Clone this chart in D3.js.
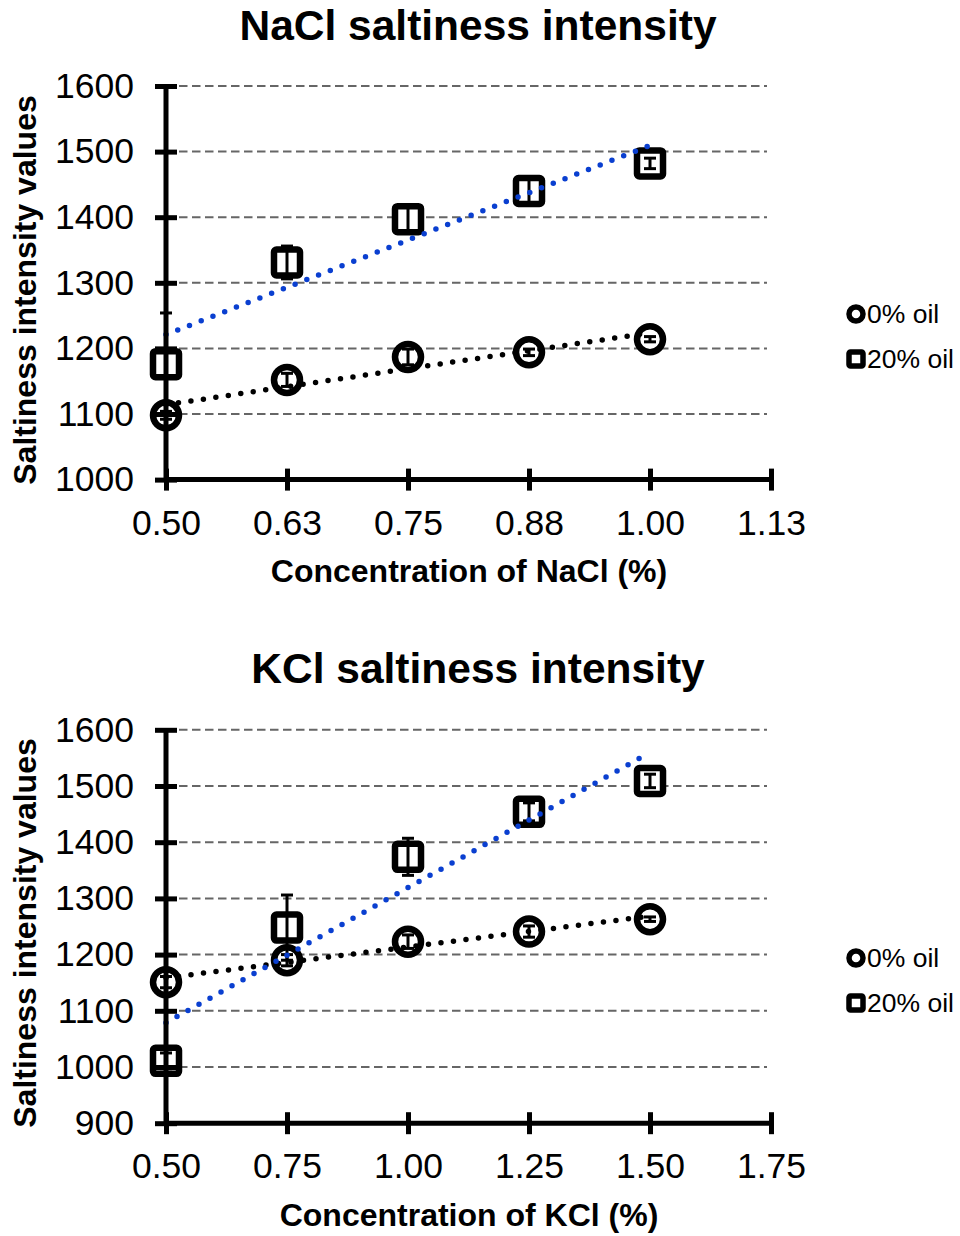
<!DOCTYPE html>
<html><head><meta charset="utf-8">
<script src="https://cdn.jsdelivr.net/npm/d3@7"></script>
<style>body{margin:0;background:#fff}svg{display:block}</style>
</head><body>
<svg id="c" width="960" height="1236"></svg>
<script>
// ---------- data ----------
const seriesNames = ["0% oil", "20% oil"];

const naclConc = [0.5, 0.625, 0.75, 0.875, 1.0];
const naclOil0 = [1098, 1152, 1187, 1194, 1214];
const naclOil0Err = [6, 10, 12, 5, 4];
const naclOil20 = [1176, 1331, 1397, 1440, 1482];
const naclOil20Err = [78, 25, 20, 20, 8];
const naclXTicks = [0.5, 0.625, 0.75, 0.875, 1.0, 1.125];
const naclYTicks = [1000, 1100, 1200, 1300, 1400, 1500, 1600];

const kclConc = [0.5, 0.75, 1.0, 1.25, 1.5];
const kclOil0 = [1151, 1190, 1223, 1241, 1263];
const kclOil0Err = [10, 10, 12, 10, 4];
const kclOil20 = [1011, 1248, 1374, 1454, 1509];
const kclOil20Err = [14, 58, 33, 16, 12];
const kclXTicks = [0.5, 0.75, 1.0, 1.25, 1.5, 1.75];
const kclYTicks = [900, 1000, 1100, 1200, 1300, 1400, 1500, 1600];

// ---------- drawing ----------
const svg = d3.select("#c");
const FONT = "'Liberation Sans', Arial, sans-serif";
const BLUE = "#0a3fd0";

function linFit(xs, ys) {
  const n = xs.length, mx = d3.mean(xs), my = d3.mean(ys);
  let sxy = 0, sxx = 0;
  for (let i = 0; i < n; i++) { sxy += (xs[i]-mx)*(ys[i]-my); sxx += (xs[i]-mx)**2; }
  const b = sxy / sxx, a = my - b*mx;
  return x => a + b*x;
}

function drawChart(cfg) {
  const g = svg.append("g");
  const x = d3.scaleLinear().domain([cfg.xTicks[0], cfg.xTicks[cfg.xTicks.length-1]]).range([166, 771]);
  const y = d3.scaleLinear().domain([cfg.yTicks[0], cfg.yTicks[cfg.yTicks.length-1]]).range(cfg.yRange);

  // title
  g.append("text").attr("x", 478).attr("y", cfg.titleY).attr("dy", "0.35em")
    .attr("text-anchor", "middle").attr("font-family", FONT).attr("font-weight", "bold")
    .attr("font-size", 42.5).text(cfg.title);

  // gridlines
  g.append("g").selectAll("line").data(cfg.yTicks.slice(1)).join("line")
    .attr("x1", 166).attr("x2", 767).attr("y1", d => y(d)).attr("y2", d => y(d))
    .attr("stroke", "#666").attr("stroke-width", 2).attr("stroke-dasharray", "8.5,4.5");

  // markers
  const s0 = cfg.conc.map((c, i) => ({c, v: cfg.oil0[i], e: cfg.oil0Err[i]}));
  const s1 = cfg.conc.map((c, i) => ({c, v: cfg.oil20[i], e: cfg.oil20Err[i]}));

  g.append("g").selectAll("circle").data(s0).join("circle")
    .attr("cx", d => x(d.c)).attr("cy", d => y(d.v)).attr("r", 13)
    .attr("fill", "#fff").attr("stroke", "#000").attr("stroke-width", 6.5);
  g.append("g").selectAll("rect").data(s1).join("rect")
    .attr("x", d => x(d.c) - 13).attr("y", d => y(d.v) - 13).attr("width", 26).attr("height", 26)
    .attr("rx", 2.5).attr("fill", "#fff").attr("stroke", "#000").attr("stroke-width", 6.5)
    .attr("stroke-linejoin", "round");

  // error bars
  [s0, s1].forEach(s => {
    const eg = g.append("g").attr("stroke", "#000").attr("stroke-width", 3);
    eg.selectAll(".v").data(s).join("line").attr("class", "v")
      .attr("x1", d => x(d.c)).attr("x2", d => x(d.c))
      .attr("y1", d => y(d.v - d.e)).attr("y2", d => y(d.v + d.e));
    eg.selectAll(".t").data(s).join("line").attr("class", "t")
      .attr("x1", d => x(d.c) - 6).attr("x2", d => x(d.c) + 6)
      .attr("y1", d => y(d.v + d.e)).attr("y2", d => y(d.v + d.e));
    eg.selectAll(".b").data(s).join("line").attr("class", "b")
      .attr("x1", d => x(d.c) - 6).attr("x2", d => x(d.c) + 6)
      .attr("y1", d => y(d.v - d.e)).attr("y2", d => y(d.v - d.e));
  });

  // trendlines
  const x0 = d3.min(cfg.conc), x1 = d3.max(cfg.conc);
  [[cfg.oil0, "#000"], [cfg.oil20, BLUE]].forEach(([vals, col]) => {
    const f = linFit(cfg.conc, vals);
    g.append("line").attr("x1", x(x0)).attr("y1", y(f(x0))).attr("x2", x(x1)).attr("y2", y(f(x1)))
      .attr("stroke", col).attr("stroke-width", 5.5).attr("stroke-linecap", "round")
      .attr("stroke-dasharray", "0,12.6");
  });

  // axes
  const yAxis = d3.axisLeft(y).tickValues(cfg.yTicks).tickSize(11).tickPadding(21)
    .tickFormat(d3.format("d"));
  const ya = g.append("g").attr("transform", "translate(166,0)").call(yAxis);
  ya.select(".domain").attr("stroke-width", 5).attr("d", `M0,${y(cfg.yTicks[0])+2.5}V${y(cfg.yTicks[cfg.yTicks.length-1])}`);
  ya.selectAll(".tick line").attr("x1", -11).attr("x2", 11).attr("stroke-width", 5);
  ya.selectAll(".tick text").attr("font-family", FONT).attr("font-size", 35.5).attr("fill", "#000");

  const xAxis = d3.axisBottom(x).tickValues(cfg.xTicks).tickSize(11).tickPadding(19)
    .tickFormat(d => d.toFixed(2));
  const xa = g.append("g").attr("transform", `translate(0,${y(cfg.yTicks[0])})`).call(xAxis);
  xa.select(".domain").attr("stroke-width", 5).attr("d", "M166,0H771");
  xa.selectAll(".tick line").attr("y1", -11).attr("y2", 11).attr("stroke-width", 5);
  xa.selectAll(".tick text").attr("font-family", FONT).attr("font-size", 35.5).attr("fill", "#000");

  // axis titles
  g.append("text").attr("x", 469).attr("y", cfg.xTitleY).attr("dy", "0.35em")
    .attr("text-anchor", "middle").attr("font-family", FONT).attr("font-weight", "bold")
    .attr("font-size", 32).text(cfg.xTitle);
  g.append("text").attr("transform", `translate(25,${cfg.yTitleY}) rotate(-90)`).attr("dy", "0.35em")
    .attr("text-anchor", "middle").attr("font-family", FONT).attr("font-weight", "bold")
    .attr("font-size", 32).text("Saltiness intensity values");

  // legend
  const lg = g.append("g");
  lg.append("circle").attr("cx", 856).attr("cy", cfg.legY).attr("r", 7)
    .attr("fill", "#fff").attr("stroke", "#000").attr("stroke-width", 5.5);
  lg.append("rect").attr("x", 849).attr("y", cfg.legY + 45 - 7).attr("width", 14).attr("height", 14)
    .attr("rx", 1.5).attr("fill", "#fff").attr("stroke", "#000").attr("stroke-width", 5.5);
  lg.selectAll("text").data(seriesNames).join("text")
    .attr("x", 867).attr("y", (d, i) => cfg.legY + i*45).attr("dy", "0.35em")
    .attr("font-family", FONT).attr("font-size", 26.5).text(d => d);
}

drawChart({
  title: "NaCl saltiness intensity", titleY: 25,
  xTitle: "Concentration of NaCl (%)", xTitleY: 571, yTitleY: 290,
  conc: naclConc, oil0: naclOil0, oil0Err: naclOil0Err, oil20: naclOil20, oil20Err: naclOil20Err,
  xTicks: naclXTicks, yTicks: naclYTicks, yRange: [479.6, 86], legY: 314
});
drawChart({
  title: "KCl saltiness intensity", titleY: 668,
  xTitle: "Concentration of KCl (%)", xTitleY: 1215, yTitleY: 933,
  conc: kclConc, oil0: kclOil0, oil0Err: kclOil0Err, oil20: kclOil20, oil20Err: kclOil20Err,
  xTicks: kclXTicks, yTicks: kclYTicks, yRange: [1123.2, 729.8], legY: 958
});
</script>
</body></html>
